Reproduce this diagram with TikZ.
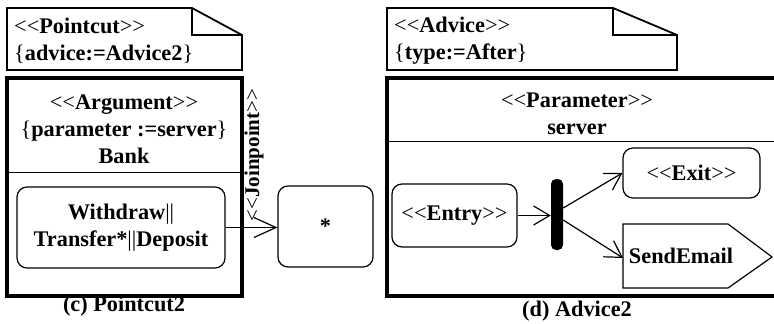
\documentclass[tikz,border=0pt]{standalone}
\usepackage{fontspec}
\setmainfont{Liberation Serif}
\usetikzlibrary{arrows.meta}
\newcommand\slt{\textmd{<\kern0pt<}}
\newcommand\sgt{\textmd{>\kern0pt>}}
\tikzset{
  every node/.style={font=\fontsize{22.3}{27}\selectfont\bfseries, inner sep=0pt},
  rbox/.style={draw, rounded corners=10pt, line width=1.2pt},
  frameline/.style={line width=4pt},
  noteline/.style={line width=1.8pt, line join=miter},
  sepline/.style={line width=1pt},
  arr/.style={line width=1.2pt, -{Straight Barb[length=16pt,width=19pt,line width=1.2pt]}},
  bigarr/.style={line width=1.2pt, -{Straight Barb[length=22pt,width=20pt,line width=1.2pt]}},
}
\begin{document}
\begin{tikzpicture}[x=1pt,y=-1pt]
\useasboundingbox (0,0) rectangle (774,324);
\begin{scope}
\clip (0,0) rectangle (774,324);
% ---- left note
\draw[noteline] (7,8) -- (192,8) -- (242,35) -- (242,70) -- (7,70) -- cycle;
\draw[noteline] (192,8) -- (192,35) -- (242,35);
\node[anchor=west, align=left] (pcnote) at (14,41) {\slt Pointcut\sgt\\\textmd{\{}advice:=Advice2\textmd{\}}};
% ---- left frame
\draw[frameline] (7,78) rectangle (242,296);
\draw[sepline] (7,172) -- (242,172);
\node[align=center] (argt) at (124,129) {\slt Argument\sgt\\\textmd{\{}parameter :=server\textmd{\}}\\Bank};
\node[rbox, minimum width=208pt, minimum height=81pt, align=center] (inner) at (121,227.5)
  {Withdraw\textmd{||}\\Transfer*\textmd{||}Deposit};
\node[rotate=90, font=\fontsize{21}{26}\selectfont\bfseries] (jp) at (254,155) {\slt Joinpoint\sgt};
\node[rbox, minimum width=95pt, minimum height=81pt] (star) at (325.5,226.5) {*};
\draw[bigarr] (inner.east) -- (inner.east -| star.west);
\node (capc) at (124,306) {(c) Pointcut2};
% ---- right note
\draw[noteline] (387,8) -- (613,8) -- (677,35) -- (677,70) -- (387,70) -- cycle;
\draw[noteline] (613,8) -- (613,35) -- (677,35);
\node[anchor=west, align=left] (adnote) at (394,41) {\slt Advice\sgt\\\textmd{\{}type:=After\textmd{\}}};
% ---- right frame
\draw[frameline] (387,78) rectangle (800,296);
\draw[sepline] (387,141) -- (800,141);
\node[align=center] (part) at (577,114) {\slt Parameter\sgt\\server};
\node[rbox, minimum width=125pt, minimum height=63pt] (entry) at (454.5,215.5) {\slt Entry\sgt};
\node[fill, rounded corners=5pt, minimum width=12pt, minimum height=71pt] (fork) at (557,214.5) {};
\node[rbox, minimum width=137pt, minimum height=50pt] (exit) at (691.5,173) {\slt Exit\sgt};
\draw[line width=1.2pt] (623,224) -- (728,224) -- (772,257) -- (728,288) -- (623,288) -- cycle;
\node[minimum width=105pt, minimum height=64pt] (send) at (681,256) {SendEmail};
\draw[arr] (entry.east) -- (fork.west |- entry.east);
\draw[arr] ([yshift=6.5pt]fork.east) -- (exit.west);
\draw[arr] ([yshift=-5.5pt]fork.east) -- (623,258);
\node (capd) at (577,311) {(d) Advice2};
\end{scope}
\end{tikzpicture}
\end{document}
